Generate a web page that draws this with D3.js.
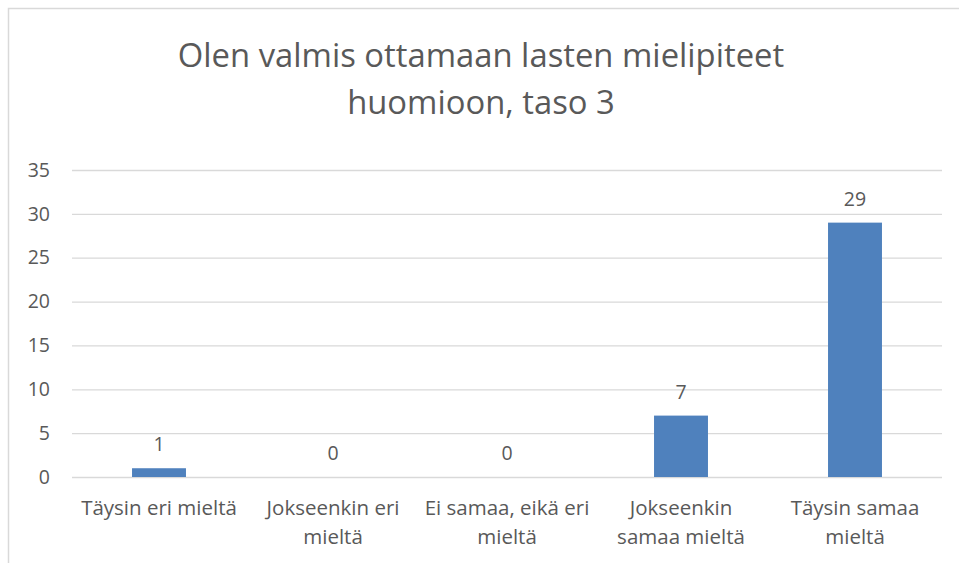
<!DOCTYPE html>
<html>
<head>
<meta charset="utf-8">
<script src="https://cdn.jsdelivr.net/npm/d3@7"></script>
<style>
  body { margin: 0; background: #fff; }
  svg { display: block; }
  svg text { font-family: 'Open Sans', sans-serif; }
</style>
</head>
<body>
<svg id="chart" width="959" height="563"></svg>
<script>
// data
const categories = ['Täysin eri mieltä', 'Jokseenkin eri\nmieltä', 'Ei samaa, eikä eri\nmieltä', 'Jokseenkin\nsamaa mieltä', 'Täysin samaa\nmieltä']
const values = [1, 0, 0, 7, 29]
const yTicks = [0, 5, 10, 15, 20, 25, 30, 35]
const titleLines = ['Olen valmis ottamaan lasten mielipiteet', 'huomioon, taso 3']

const textColor = '#595959'
const gridColor = '#d9d9d9'
const barColor = '#4f81bd'

const svg = d3.select('#chart')

// chart area border (runs off the right/bottom like the screenshot)
svg.append('rect')
  .attr('x', 8.5).attr('y', 8.5)
  .attr('width', 980).attr('height', 600)
  .attr('fill', 'none')
  .attr('stroke', gridColor)
  .attr('stroke-width', 1.5)

svg.append('g')
  .selectAll('text')
  .data(titleLines)
  .enter().append('text')
  .attr('x', 481)
  .attr('y', function(d, i) { return 67 + i * 47 })
  .attr('text-anchor', 'middle')
  .attr('fill', textColor)
  .style('font-size', '32.8px')
  .text(function(d) { return d })

const margin = {top: 170, left: 72, right: 17, bottom: 86}
const width = 959 - margin.left - margin.right
const height = 563 - margin.top - margin.bottom

const g = svg.append('g').attr('transform', 'translate(' + margin.left + ',' + margin.top + ')')

const x = d3.scaleBand()
  .domain(categories)
  .range([0, width])
  .paddingInner(0.69)
  .paddingOuter(0.345)

const y = d3.scaleLinear()
  .domain([0, 35])
  .range([height, 0])

// gridlines + y labels
const yAxis = g.append('g')
  .call(d3.axisLeft(y).tickValues(yTicks).tickSize(-width).tickPadding(22))
yAxis.select('.domain').remove()
yAxis.selectAll('line').attr('stroke', gridColor).attr('stroke-width', 1.3)
yAxis.selectAll('text')
  .attr('fill', textColor)
  .style('font-size', '19.5px')

g.selectAll('.bar')
  .data(values)
  .enter().append('rect')
  .attr('class', 'bar')
  .attr('x', function(d, i) { return x(categories[i]) })
  .attr('y', function(d) { return y(d) })
  .attr('width', x.bandwidth())
  .attr('height', function(d) { return height - y(d) })
  .attr('fill', barColor)

g.selectAll('.value')
  .data(values)
  .enter().append('text')
  .attr('class', 'value')
  .attr('x', function(d, i) { return x(categories[i]) + x.bandwidth() / 2 })
  .attr('y', function(d) { return y(d) - 17 })
  .attr('text-anchor', 'middle')
  .attr('fill', textColor)
  .style('font-size', '19.5px')
  .text(function(d) { return d })

// category labels, two lines where the original wraps
const xAxis = g.append('g')
  .attr('transform', 'translate(0,' + height + ')')
  .call(d3.axisBottom(x).tickSize(0).tickFormat(''))
xAxis.select('.domain').remove()

xAxis.selectAll('.tick')
  .append('text')
  .attr('fill', textColor)
  .attr('text-anchor', 'middle')
  .style('font-size', '20.5px')
  .selectAll('tspan')
  .data(function(d) { return d.split('\n') })
  .enter().append('tspan')
  .attr('x', 0)
  .attr('y', function(d, i) { return 38 + i * 29 })
  .text(function(d) { return d })
</script>
</body>
</html>
